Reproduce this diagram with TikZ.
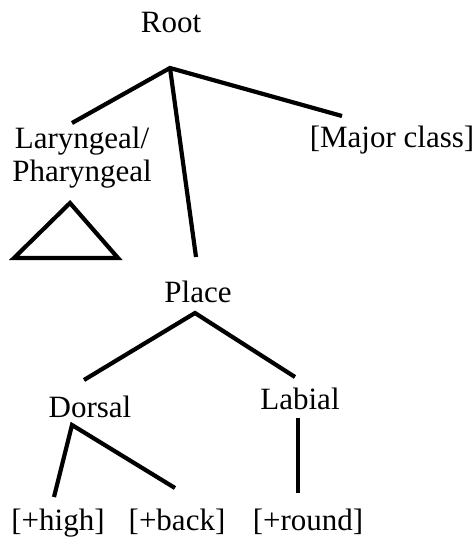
\documentclass[tikz,border=0pt]{standalone}
\usepackage{fontspec}
\setmainfont{Liberation Serif}
\begin{document}
\begin{tikzpicture}[x=1pt,y=-1pt,
  lbl/.style={anchor=base,inner sep=0pt,font=\fontsize{31}{33}\selectfont},
  branch/.style={line width=4.2pt,line cap=butt}]
\useasboundingbox (0,0) rectangle (474,537);
% labels
\node[lbl] (root) at (171,33) {Root};
\node[lbl,align=center,anchor=north] (lar) at (82,127) {Laryngeal/\\Pharyngeal};
\node[lbl] (major) at (392,148) {[Major class]};
\node[lbl] (place) at (198,302) {Place};
\node[lbl] (dorsal) at (90,417) {Dorsal};
\node[lbl] (labial) at (300,409) {Labial};
\node[lbl] (high) at (58,530) {[+high]};
\node[lbl] (back) at (177,530) {[+back]};
\node[lbl] (round) at (308,530) {[+round]};
% connector end points
\coordinate (rootA) at (170,68);
\coordinate (larT) at (72,123);
\coordinate (majT) at (342,116);
\coordinate (placeT) at (196,257);
\coordinate (placeA) at (195,313);
\coordinate (dorsT) at (84,380);
\coordinate (labT) at (295,377);
\coordinate (dorsA) at (72,425);
\coordinate (highT) at (54,497);
\coordinate (backT) at (175,488);
\coordinate (labA) at (298,418);
\coordinate (roundT) at (298,493);
% triangle
\coordinate (triA) at (70,203);
\coordinate (triL) at (14,258);
\coordinate (triR) at (118,258);
% connectors
\draw[branch] (larT) -- (rootA) -- (majT);
\draw[branch] (rootA) -- (placeT);
\draw[branch] (dorsT) -- (placeA) -- (labT);
\draw[branch] (highT) -- (dorsA) -- (backT);
\draw[branch] (labA) -- (roundT);
\draw[branch,line join=miter] (triA) -- (triL) -- (triR) -- cycle;
\end{tikzpicture}
\end{document}
